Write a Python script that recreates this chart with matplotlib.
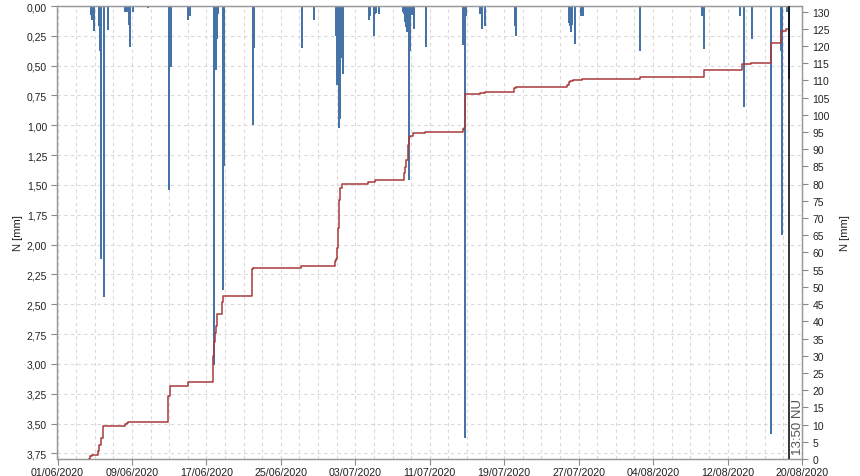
import matplotlib
matplotlib.use('Agg')
import matplotlib.pyplot as plt
import matplotlib.dates as mdates
import matplotlib.ticker as mticker
import matplotlib.transforms as mtransforms
import numpy as np
from datetime import datetime

# ---- data (days after 01/06/2020 00:00) ----
bar_days = [3.60, 3.74, 3.95, 4.42, 4.54, 4.67, 4.99, 5.39, 7.30, 7.48, 7.63, 7.76, 8.08, 9.69,
            12.00, 12.17, 14.07, 14.21, 16.84, 17.00, 17.16, 17.29, 17.76, 17.92, 21.03, 21.16,
            26.26, 27.55, 29.91, 30.08, 30.21, 30.31, 30.45, 30.63, 33.46, 33.59, 34.00, 34.16,
            34.26, 34.53, 37.11, 37.22, 37.33, 37.43, 37.54, 37.73, 37.89, 38.04, 38.29, 39.55,
            43.56, 43.77, 43.91, 45.40, 45.60, 45.89, 49.17, 49.28, 54.91, 55.05, 55.16, 55.32,
            55.56, 56.30, 56.48, 62.57, 69.28, 69.52, 73.31, 73.72, 74.58, 76.72, 77.69, 77.80,
            78.41, 78.59]
bar_mm = [0.073, 0.115, 0.21, 0.165, 0.375, 2.12, 2.44, 0.2, 0.05, 0.05, 0.16, 0.34, 0.05, 0.02,
          1.54, 0.51, 0.115, 0.08, 3.01, 0.54, 0.28, 0.07, 2.38, 1.34, 1.0, 0.35,
          0.355, 0.115, 0.25, 0.66, 1.02, 0.95, 0.44, 0.57, 0.115, 0.08, 0.25, 0.07,
          0.055, 0.065, 0.05, 0.07, 0.13, 0.18, 0.22, 1.46, 0.375, 0.075, 0.19, 0.34,
          0.33, 3.62, 0.08, 0.07, 0.19, 0.165, 0.165, 0.25, 0.14, 0.165, 0.22, 0.16,
          0.32, 0.08, 0.08, 0.38, 0.08, 0.36, 0.08, 0.845, 0.28, 3.59, 0.38, 1.92,
          0.05, 0.61]

cum_days = [3.40, 3.49, 3.67, 4.38, 4.51, 4.64, 4.92, 5.28, 7.25, 7.47, 7.60, 11.90, 12.08, 14.05,
            16.73, 16.80, 16.92, 17.02, 17.16, 17.70, 17.81, 20.92, 21.03, 26.19, 29.84, 29.95,
            30.05, 30.16, 30.27, 30.38, 30.59, 33.35, 33.51, 34.10, 37.25, 37.36, 37.47, 37.62,
            37.72, 37.83, 38.19, 39.51, 43.52, 43.63, 43.74, 45.38, 45.89, 49.07, 49.22, 54.80,
            54.94, 55.12, 55.40, 56.34, 62.57, 69.44, 73.60, 74.49, 76.71, 77.74, 78.25, 78.58]
cum_mm = [0.0, 1.0, 1.2, 2.4, 4.0, 6.0, 9.5, 9.7, 10.1, 10.4, 10.8, 18.4, 21.3, 22.3,
          30.0, 33.9, 36.5, 38.7, 42.1, 45.5, 47.3, 55.2, 55.6, 56.1, 57.6, 58.1,
          61.2, 67.0, 75.3, 78.6, 79.9, 80.4, 80.6, 81.0, 83.0, 84.7, 86.8, 91.2,
          93.4, 93.9, 94.6, 94.9, 96.0, 96.3, 105.9, 106.2, 106.5, 107.7, 108.0, 108.6,
          109.4, 109.8, 110.1, 110.3, 111.1, 112.9, 114.7, 115.0, 120.8, 124.4, 124.8, 124.8]

now_day = 78.58
now_label = "13:50 NU"
left_ticks = np.arange(0, 3.76, 0.25)
right_ticks = np.arange(0, 131, 5)
tick_days = np.arange(0, 81, 8)

base = mdates.date2num(datetime(2020, 6, 1))
bx = base + np.array(bar_days)
cx = base + np.array(cum_days)

plt.rcParams['font.family'] = ['Liberation Sans', 'DejaVu Sans']

fig = plt.figure(figsize=(8.6, 4.77), dpi=100)
ax = fig.add_axes([57.5 / 860, 17 / 477, (802 - 57.5) / 860, (460 - 7) / 477])
ax2 = ax.twinx()

ax.bar(bx, bar_mm, width=0.215, bottom=0, color='#4572a7', linewidth=0, align='center', zorder=2)
ax.set_ylim(3.797, 0)
ax.set_xlim(base, base + 80)

ax2.step(cx, cum_mm, where='post', color='#aa3b3b', lw=1.1, zorder=3)
ax2.set_ylim(0, 131.6)
ax2.axvline(base + now_day, color='black', lw=1.1, zorder=4)
offset = mtransforms.offset_copy(ax2.get_xaxis_transform(), fig=fig, x=2.5, y=0, units='points')
ax2.text(base + now_day, 0.010, now_label, transform=offset,
         rotation=90, ha='left', va='bottom', fontsize=9.5, color='#555555')

# ticks
ax.xaxis.set_major_locator(mticker.FixedLocator(base + tick_days))
ax.xaxis.set_minor_locator(mticker.FixedLocator(base + np.arange(0, 81, 2)))
ax.xaxis.set_major_formatter(mdates.DateFormatter('%d/%m/%Y'))
ax.yaxis.set_major_locator(mticker.FixedLocator(left_ticks))
ax.yaxis.set_major_formatter(mticker.FuncFormatter(lambda v, p: f"{v:.2f}".replace('.', ',')))
ax2.yaxis.set_major_locator(mticker.FixedLocator(right_ticks))

for a in (ax, ax2):
    a.tick_params(axis='both', which='major', direction='out', length=4, width=0.8,
                  color='#888888', labelsize=7.5, labelcolor='#222222')
    for s in a.spines.values():
        s.set_color('#999999')
        s.set_linewidth(0.9)
ax.tick_params(axis='x', which='minor', length=0)
ax.tick_params(axis='x', which='major', labelsize=7.7, pad=2)

ax.grid(which='both', axis='x', linestyle=(0, (3, 3)), color='#d9d9d9', lw=0.8, zorder=0)
ax.grid(which='major', axis='y', linestyle=(0, (3, 3)), color='#d9d9d9', lw=0.8, zorder=0)
ax.set_axisbelow(True)

ax.set_ylabel('N [mm]', fontsize=8, color='#222222', labelpad=3)
ax2.set_ylabel('N [mm]', fontsize=8, color='#222222', labelpad=7)

fig.savefig('out.png', dpi=100)
